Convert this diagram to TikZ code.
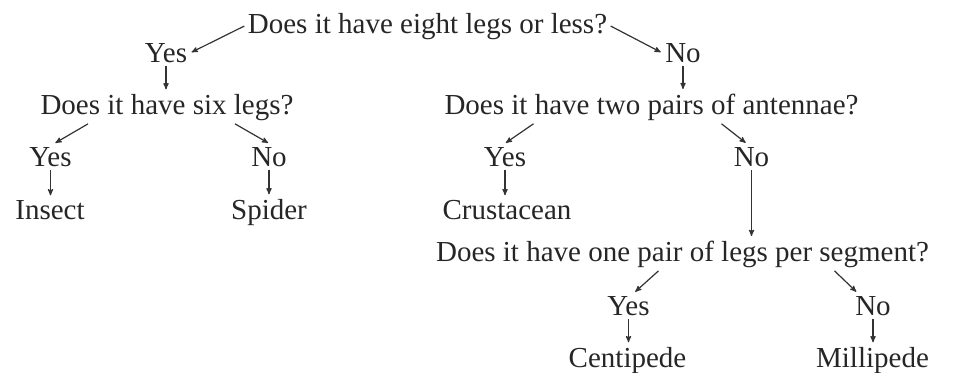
\documentclass[tikz,border=0pt]{standalone}
\usepackage{fontspec}
\setmainfont{Liberation Serif}
\usetikzlibrary{arrows}

\begin{document}
\begin{tikzpicture}[->,>=stealth',shorten >=1pt,x=1pt,y=-1pt,
    line width=1.2pt,draw=black!80,
    ans/.style={anchor=base,inner sep=3pt,text=black!85,font=\fontsize{29}{35}\selectfont}]

\useasboundingbox (0,0) rectangle (957,372);

\node[ans] (q1) at (427.5,33) {Does it have eight legs or less?};
\node[ans] (y1) at (166,62) {Yes};
\node[ans] (n1) at (683,62) {No};
\node[ans] (q2) at (167,114) {Does it have six legs?};
\node[ans] (q3) at (651.5,114) {Does it have two pairs of antennae?};
\node[ans] (y2) at (50.5,166) {Yes};
\node[ans] (n2) at (269,166) {No};
\node[ans] (y3) at (505,166) {Yes};
\node[ans] (n3) at (751.5,166) {No};
\node[ans] (insect) at (50,219) {Insect};
\node[ans] (spider) at (269,219) {Spider};
\node[ans] (crust) at (507,219) {Crustacean};
\node[ans] (q4) at (682.5,261) {Does it have one pair of legs per segment?};
\node[ans] (y4) at (628.5,315) {Yes};
\node[ans] (n4) at (873,315) {No};
\node[ans] (centi) at (627.5,367) {Centipede};
\node[ans] (milli) at (872.5,367) {Millipede};

\path
(q1.west) edge (y1.east)
(q1.east) edge (n1.west)
(y1.south) edge (y1.south |- q2.north)
(n1.south) edge (n1.south |- q3.north)
([xshift=-79pt]q2.south) edge ([xshift=4pt]y2.north)
([xshift=68pt]q2.south) edge (n2.north)
([xshift=-118pt]q3.south) edge (y3.north)
([xshift=70pt]q3.south) edge ([xshift=-5pt]n3.north)
(n3.south) edge (n3.south |- q4.north)
([xshift=-24pt]q4.south) edge ([xshift=6pt]y4.north)
([xshift=152pt]q4.south) edge ([xshift=-16pt]n4.north)
(y2.south) edge (y2.south |- insect.north)
(n2.south) edge (n2.south |- spider.north)
(y3.south) edge (y3.south |- crust.north)
(y4.south) edge (y4.south |- centi.north)
(n4.south) edge (n4.south |- milli.north)
;

\end{tikzpicture}
\end{document}
